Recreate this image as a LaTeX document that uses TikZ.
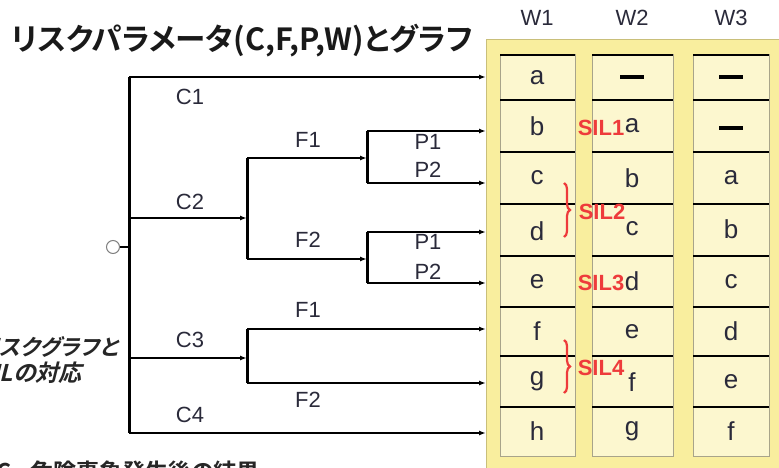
\documentclass[tikz,border=0pt]{standalone}
\usepackage{fontspec}
\setmainfont{Liberation Sans}
\newfontfamily\jp{Noto Sans CJK JP}[BoldFont={Noto Sans CJK JP Bold},RawFeature=+palt]
\newfontfamily\jpsl{Noto Sans CJK JP Bold}[FakeSlant=0.25,RawFeature=+palt]
\usetikzlibrary{arrows.meta,decorations.pathreplacing}
\definecolor{boxyellow}{HTML}{F9EE9E}
\definecolor{boxedge}{HTML}{C9BF7A}
\definecolor{cellfill}{HTML}{FCF7CF}
\definecolor{celledge}{HTML}{A8A48A}
\definecolor{txt}{HTML}{2A2A3A}
\definecolor{silred}{HTML}{EE3B3B}
\tikzset{
  hline/.style={line width=1.5pt,-{Latex[length=7pt,width=5pt]}},
  plainline/.style={line width=1.5pt},
  vline/.style={line width=3pt},
  lab/.style={text=txt,font=\fontsize{22}{26}\selectfont,inner sep=0pt},
  cell/.style={text=txt,font=\fontsize{26}{30}\selectfont,inner sep=0pt},
  dashbar/.style={fill=black,minimum width=24pt,minimum height=4pt,inner sep=0pt},
  sil/.style={text=silred,font=\fontsize{22}{26}\selectfont\bfseries,inner sep=0pt},
  silbrace/.style={draw=silred,line width=2.2pt,decorate,decoration={brace,amplitude=6pt}},
  colbox/.style={fill=cellfill,draw=celledge,line width=1pt},
  sep/.style={line width=2.2pt,black}
}
\begin{document}
\begin{tikzpicture}[x=1pt,y=-1pt]
\useasboundingbox (0,0) rectangle (779,468);
\clip (0,0) rectangle (779,468);
% title
\node[anchor=west,inner sep=0pt,text=black!90,font=\jp\bfseries\fontsize{30.5}{34}\selectfont] (title) at (11,41) {リスクパラメータ(C,F,P,W)とグラフ};
% yellow box
\draw[fill=boxyellow,draw=boxedge,line width=1pt] (486,40) rectangle (800,490);
% columns
\foreach \xa/\xb in {500/575, 592/673, 693/769}{
  \draw[colbox] (\xa,55) rectangle (\xb,456);
  \foreach \yy in {55,100,152,204,256,307,356,407}{
    \draw[sep] (\xa,\yy) -- (\xb,\yy);
  }
}
% headers
\node[lab] (hw1) at (537,18) {W1};
\node[lab] (hw2) at (632,18) {W2};
\node[lab] (hw3) at (731,18) {W3};
% W1 cells
\node[cell] (w1a) at (537,77.5) {a};
\node[cell] (w1b) at (537,126) {b};
\node[cell] (w1c) at (537,178) {c};
\node[cell] (w1d) at (537,231) {d};
\node[cell] (w1e) at (537,281.5) {e};
\node[cell] (w1f) at (537,331.5) {f};
\node[cell] (w1g) at (537,381.5) {g};
\node[cell] (w1h) at (537,431.5) {h};
% W2 cells
\node[dashbar] (w2x) at (632,77.5) {};
\node[cell] (w2a) at (632,126) {a};
\node[cell] (w2b) at (632,178) {b};
\node[cell] (w2c) at (632,229) {c};
\node[cell] (w2d) at (632,281.5) {d};
\node[cell] (w2e) at (632,331.5) {e};
\node[cell] (w2f) at (632,382) {f};
\node[cell] (w2g) at (632,431.5) {g};
% W3 cells
\node[dashbar] (w3x) at (731,77.5) {};
\node[dashbar] (w3y) at (731,128) {};
\node[cell] (w3a) at (731,178) {a};
\node[cell] (w3b) at (731,229) {b};
\node[cell] (w3c) at (731,281.5) {c};
\node[cell] (w3d) at (731,331.5) {d};
\node[cell] (w3e) at (731,381.5) {e};
\node[cell] (w3f) at (731,431.5) {f};
% SIL labels
\node[sil] (sil1) at (601,128) {SIL1};
\node[sil] (sil2) at (602,212) {SIL2};
\node[sil] (sil3) at (601,283) {SIL3};
\node[sil] (sil4) at (601,368) {SIL4};
\draw[silbrace] (564,183) -- (564,237);
\draw[silbrace] (564,340) -- (564,393);
% tree coordinates
\coordinate (mtop) at (129,77);
\coordinate (mbot) at (129,433);
\coordinate (root) at (129,247);
\coordinate (c2j) at (247,218);
\coordinate (c2mid) at (129,218);
\coordinate (fa1) at (247,158);
\coordinate (fa2) at (247,259);
\coordinate (pa) at (367,158);
\coordinate (pa1) at (367,131);
\coordinate (pa2) at (367,183);
\coordinate (pb) at (367,259);
\coordinate (pb1) at (367,232);
\coordinate (pb2) at (367,283);
\coordinate (c3mid) at (129,358);
\coordinate (c3j) at (247,358);
\coordinate (fb1) at (247,329);
\coordinate (fb2) at (247,383);
\coordinate (t1) at (486,77);
\coordinate (t2) at (486,131);
\coordinate (t3) at (486,183);
\coordinate (t4) at (486,232);
\coordinate (t5) at (486,283);
\coordinate (t6) at (486,329);
\coordinate (t7) at (486,383);
\coordinate (t8) at (486,433);
% start circle
\node[circle,draw=gray,line width=1pt,minimum size=13pt,inner sep=0pt,fill=white] (start) at (113,247) {};
\draw[line width=2pt] (start) -- (root);
% main vertical
\draw[vline] (mtop) -- (mbot);
\draw[hline] (mtop) -- (t1);
\draw[hline] (c2mid) -- (c2j);
\draw[vline] (fa1) -- (fa2);
\draw[hline] (fa1) -- (pa);
\draw[hline] (fa2) -- (pb);
\draw[vline] (pa1) -- (pa2);
\draw[vline] (pb1) -- (pb2);
\draw[hline] (pa1) -- (t2);
\draw[hline] (pa2) -- (t3);
\draw[hline] (pb1) -- (t4);
\draw[hline] (pb2) -- (t5);
\draw[hline] (c3mid) -- (c3j);
\draw[vline] (fb1) -- (fb2);
\draw[hline] (fb1) -- (t6);
\draw[hline] (fb2) -- (t7);
\draw[hline] (mbot) -- (t8);
% labels
\node[lab] (lc1) at (190,97) {C1};
\node[lab] (lc2) at (190,202) {C2};
\node[lab] (lc3) at (190,340) {C3};
\node[lab] (lc4) at (190,415) {C4};
\node[lab] (lf1) at (308,140) {F1};
\node[lab] (lf2) at (308,240) {F2};
\node[lab] (lf3) at (308,310) {F1};
\node[lab] (lf4) at (308,400) {F2};
\node[lab] (lp1) at (428,142) {P1};
\node[lab] (lp2) at (428,170) {P2};
\node[lab] (lp3) at (428,242) {P1};
\node[lab] (lp4) at (428,272) {P2};
% left text, cut off at the picture's edge as in the reference
\node[anchor=base east,inner sep=0pt,text=black!85,font=\jpsl\fontsize{22}{26}\selectfont] (side1) at (118,355) {リスクグラフと};
\node[anchor=base east,inner sep=0pt,text=black!85,font=\jpsl\fontsize{23}{27}\selectfont] (side2) at (82,381) {SILの対応};
% bottom text, cut off at the picture's edge as in the reference
\node[anchor=base east,inner sep=0pt,text=black!85,font=\jp\bfseries\fontsize{23}{27}\selectfont] (bc) at (12,480) {C};
\node[anchor=base west,inner sep=0pt,text=black!85,font=\jp\bfseries\fontsize{23}{27}\selectfont] (bt) at (30,480) {危険事象発生後の結果};
\end{tikzpicture}
\end{document}
